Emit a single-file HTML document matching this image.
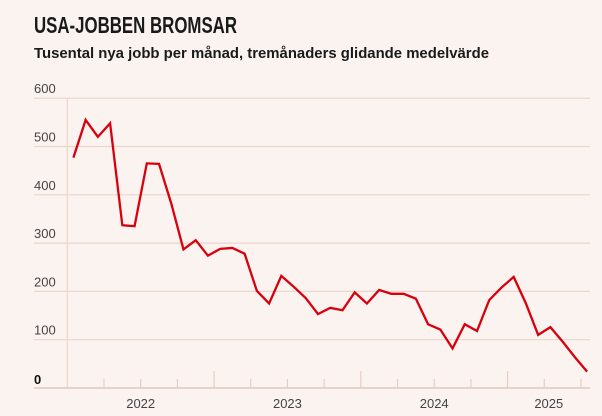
<!DOCTYPE html>
<html><head><meta charset="utf-8"><style>
html,body{margin:0;padding:0;background:#fbf3f0;}
svg{display:block;font-family:"Liberation Sans",sans-serif;}
</style></head><body>
<svg id="chart" width="602" height="416" viewBox="0 0 602 416">
<rect width="602" height="416" fill="#fbf3f0"/>
<text x="34" y="33" font-size="23" font-weight="bold" fill="#1a1a1a" textLength="203" lengthAdjust="spacingAndGlyphs">USA-JOBBEN BROMSAR</text>
<text x="34" y="58" font-size="15" font-weight="bold" fill="#1a1a1a" textLength="455" lengthAdjust="spacingAndGlyphs">Tusental nya jobb per månad, tremånaders glidande medelvärde</text>
<g id="grid"></g><g id="axes"></g><g id="series"></g>
</svg>
<script>
const yTicks=[0,100,200,300,400,500,600];
const yearLabels=["2022","2023","2024","2025"];
const values=[477,555,520,548,337,335,465,464,382,287,306,274,288,290,278,201,175,232,210,186,153,166,161,198,175,203,195,195,185,132,121,82,132,118,182,208,230,175,110,126,96,64,34];
const NS="http://www.w3.org/2000/svg";
const x0=67.3,mW=12.23,yBase=388,yScale=0.483;
const X=i=>x0+mW*(i+0.5), Xm=m=>x0+mW*m, Y=v=>yBase-v*yScale;
function mk(t,a,p){const e=document.createElementNS(NS,t);for(const k in a)e.setAttribute(k,a[k]);p.appendChild(e);return e;}
const grid=document.getElementById('grid'),axes=document.getElementById('axes'),ser=document.getElementById('series');
yTicks.forEach(v=>{
  if(v>0){const l=mk('line',{x1:34,x2:590,y1:Y(v),y2:Y(v),stroke:'#ecd5cc','stroke-width':1.2},grid);
  
  }
  const t=mk('text',{x:34,y:v===0?384:Y(v)-5,'font-size':13,fill:v===0?'#111':'#444','font-weight':v===0?'bold':'normal'},axes);
  t.textContent=String(v);
  
  
});
const va=mk('line',{x1:x0,x2:x0,y1:Y(600),y2:yBase,stroke:'#ecd5cc','stroke-width':1.2},axes);


const bl=mk('line',{x1:34,x2:590,y1:yBase,y2:yBase,stroke:'#dcbfb4','stroke-width':1.3},axes);


for(let m=3;m<=42;m+=3){
  const major=m%12===0;
  const tk=mk('line',{x1:Xm(m),x2:Xm(m),y1:major?yBase-17:yBase-9,y2:yBase,stroke:'#e6cdc3','stroke-width':1.2},axes);
  
  
}
yearLabels.forEach((lab,i)=>{
  const s=Xm(i*12),e=Math.min(Xm(i*12+12),590);
  const t=mk('text',{x:(s+e)/2,y:408,'font-size':13,fill:'#444','text-anchor':'middle'},axes);
  t.textContent=lab;
  
  
});
const p=mk('polyline',{points:values.map((v,i)=>X(i)+','+Y(v)).join(' '),fill:'none',stroke:'#d9000d','stroke-width':2.3,'stroke-linejoin':'miter'},ser);


</script>
</body></html>
